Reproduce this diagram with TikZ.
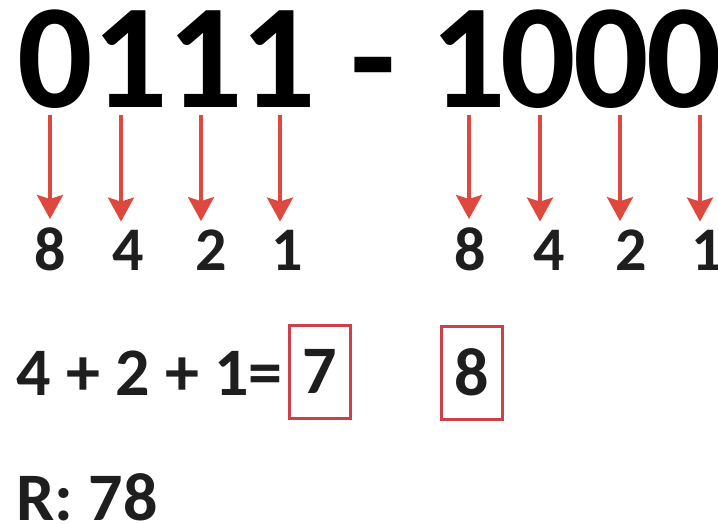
\documentclass[tikz,border=0pt]{standalone}
\usepackage{fontspec}
\setmainfont{Carlito}
\usetikzlibrary{arrows.meta}
\definecolor{arrred}{RGB}{222,72,62}
\definecolor{boxred}{RGB}{204,64,74}
\definecolor{ink}{RGB}{30,30,30}
\begin{document}
\begin{tikzpicture}[x=1pt,y=-1pt,
  big/.style={font=\fontsize{149}{149}\selectfont\bfseries, inner sep=0pt, anchor=base, text=black},
  small/.style={font=\fontsize{62}{62}\selectfont\bfseries, inner sep=0pt, anchor=base, text=ink},
  mid/.style={font=\fontsize{68}{68}\selectfont\bfseries, inner sep=0pt, anchor=base west, text=ink},
  arr/.style={draw=arrred, line width=3.5pt, -{Stealth[length=24pt,width=26pt,inset=4pt]}, shorten >=8pt},
  valbox/.style={draw=boxred, line width=3pt, minimum width=61pt, minimum height=93pt, inner sep=0pt,
    font=\fontsize{68}{68}\selectfont\bfseries, text=ink}]
\fill[white] (0,0) rectangle (718,523);
\useasboundingbox (0,0) rectangle (718,523);
% big binary numbers
\node[big] (d1) at (55,107) {0};
\node[big] (d2) at (130,107) {1};
\node[big] (d3) at (205,107) {1};
\node[big] (d4) at (278,107) {1};
\node[big] (dash) at (373,107) {-};
\node[big] (d5) at (468,107) {1};
\node[big] (d6) at (538,107) {0};
\node[big] (d7) at (611,107) {0};
\node[big] (d8) at (684,107) {0};
% weights
\node[small] (s1) at (50,270) {8};
\node[small] (s2) at (128,270) {4};
\node[small] (s3) at (211,270) {2};
\node[small] (s4) at (287,270) {1};
\node[small] (s5) at (470,270) {8};
\node[small] (s6) at (549,270) {4};
\node[small] (s7) at (631,270) {2};
\node[small] (s8) at (707,270) {1};
% arrows
\coordinate (a1) at (50,115);
\coordinate (a2) at (121,115);
\coordinate (a3) at (201,115);
\coordinate (a4) at (280,115);
\coordinate (a5) at (469,115);
\coordinate (a6) at (540,115);
\coordinate (a7) at (620,115);
\coordinate (a8) at (700,115);
\draw[arr] (a1) -- (a1 |- s1.north);
\draw[arr] (a2) -- (a2 |- s2.north);
\draw[arr] (a3) -- (a3 |- s3.north);
\draw[arr] (a4) -- (a4 |- s4.north);
\draw[arr] (a5) -- (a5 |- s5.north);
\draw[arr] (a6) -- (a6 |- s6.north);
\draw[arr] (a7) -- (a7 |- s7.north);
\draw[arr] (a8) -- (a8 |- s8.north);
% sums
\node[mid] (sum) at (16,395) {4 + 2 + 1=};
\node[valbox] (v7) at (319.5,371.5) {7};
\node[valbox] (v8) at (471.5,372.5) {8};
% result
\node[mid] (res) at (16,520) {R: 78};
\end{tikzpicture}
\end{document}
